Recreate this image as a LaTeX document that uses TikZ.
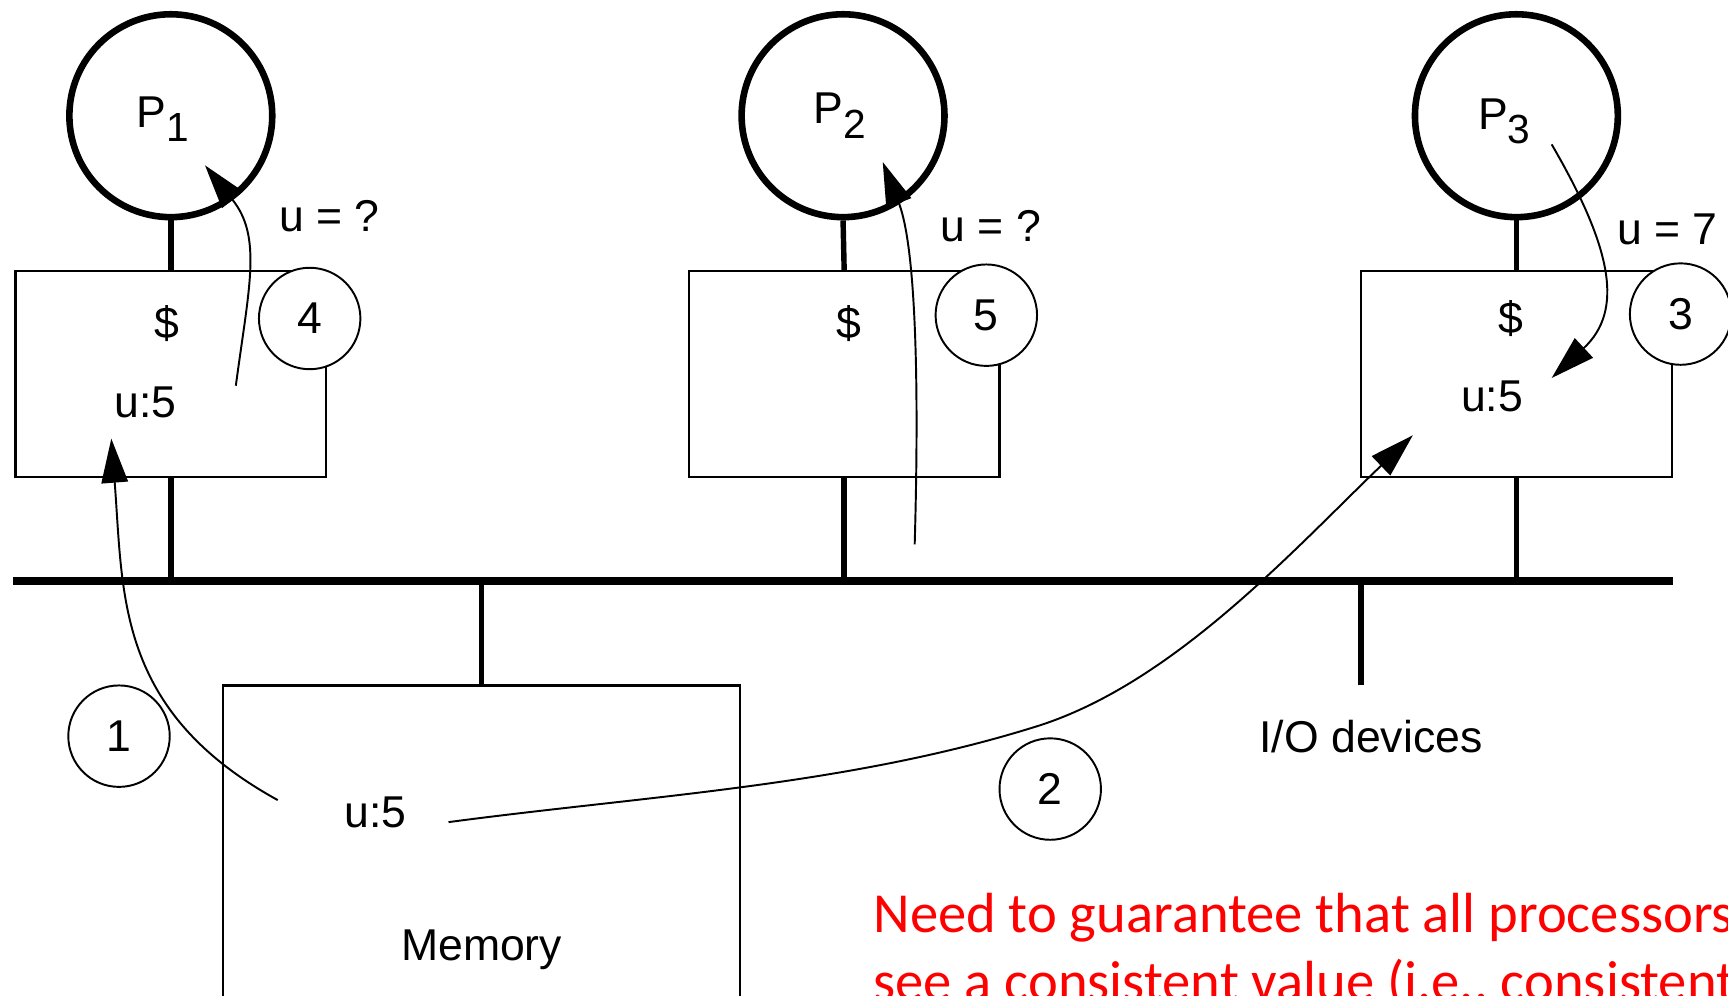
\documentclass[tikz,border=0pt]{standalone}
\usepackage{fontspec}
\setmainfont{Liberation Sans}
\newfontfamily\notefont{Carlito}
\usetikzlibrary{arrows.meta}
\definecolor{notered}{RGB}{255,0,0}
\newcommand\psub[1]{\raisebox{-0.6ex}{\fontsize{10.5}{11}\selectfont #1}}
\begin{document}
\begin{tikzpicture}[x=0.01cm, y=-0.01cm,
  proc/.style={circle, draw, line width=1.7pt, minimum size=1.84cm, inner sep=0pt},
  cachebox/.style={rectangle, draw, line width=0.6pt, minimum width=2.82cm, minimum height=1.87cm, inner sep=0pt},
  membox/.style={rectangle, draw, line width=0.6pt, minimum width=4.69cm, minimum height=3.6cm, inner sep=0pt},
  num/.style={circle, draw, fill=white, line width=0.5pt, minimum size=0.92cm, inner sep=0pt, font=\fontsize{11.5}{13}\selectfont},
  lbl/.style={inner sep=0pt, font=\fontsize{11.5}{13}\selectfont},
  note/.style={inner sep=0pt, anchor=base west, text=notered, font=\notefont\fontsize{14.6}{17.5}\selectfont},
  stem/.style={line width=1.4pt},
  busline/.style={line width=2.1pt},
  flow/.style={line width=0.5pt, -{Triangle[length=0.4cm, width=0.24cm]}},
]
\useasboundingbox (0,0) rectangle (1568,903);
\clip (0,0) rectangle (1568,903);

% processors
\node[proc] (p1) at (155,105) {};
\node[proc] (p2) at (765,105) {};
\node[proc] (p3) at (1376,105) {};
\node[lbl] (p1t) at (148,108) {P\psub{1}};
\node[lbl] (p2t) at (762,105) {P\psub{2}};
\node[lbl] (p3t) at (1365,110) {P\psub{3}};

% caches and memory
\node[cachebox] (c1) at (155,339.5) {};
\node[cachebox] (c2) at (766,339.5) {};
\node[cachebox] (c3) at (1376,339.5) {};
\node[membox] (mem) at (437,802) {};

% bus and its taps
\coordinate (busL) at (12,527);
\coordinate (busR) at (1518,527);
\coordinate (io) at (1235,622);
\draw[stem] (p1.south) -- (c1.north);
\draw[stem] (p2.south) -- (c2.north);
\draw[stem] (p3.south) -- (c3.north);
\draw[stem] (c1.south) -- (c1.south |- busL);
\draw[stem] (c2.south) -- (c2.south |- busL);
\draw[stem] (c3.south) -- (c3.south |- busL);
\draw[stem] (mem.north) -- (mem.north |- busL);
\draw[stem] (io) -- (io |- busL);
\draw[busline] (busL) -- (busR);

% step numbers
\node[num] (n4) at (281,289) {4};
\node[num] (n5) at (895,286) {5};
\node[num] (n3) at (1525,285) {3};
\node[num] (n1) at (108,668) {1};
\node[num] (n2) at (953,716) {2};

% contents
\node[lbl] (d1) at (151,294) {\$};
\node[lbl] (v1) at (132,365) {u:5};
\node[lbl] (q1) at (299,196) {u = ?};
\node[lbl] (d2) at (770,294) {\$};
\node[lbl] (q2) at (899,205) {u = ?};
\node[lbl] (d3) at (1371,289) {\$};
\node[lbl] (v3) at (1354,360) {u:5};
\node[lbl] (q3) at (1513,208) {u = 7};
\node[lbl] (vm) at (341,737) {u:5};
\node[lbl] (memt) at (437,862) {Memory};
\node[lbl] (iot) at (1244,668) {I/O devices};

% data movements
\coordinate (a1s) at (252,726);  \coordinate (a1e) at (101,398);
\coordinate (a2s) at (407,746);  \coordinate (a2m) at (941,659);  \coordinate (a2e) at (1282,395);
\coordinate (a3s) at (1408,131); \coordinate (a3e) at (1408,343);
\coordinate (a4s) at (214,350);  \coordinate (a4e) at (186,150);
\coordinate (a5s) at (830,494);  \coordinate (a5e) at (801,147);
\draw[flow] (a1s) .. controls (105,645) and (112,540) .. (a1e);
\draw[flow] (a2s) .. controls (587,722) and (769,713) .. (a2m)
                  .. controls (1065,620) and (1174,498.5) .. (a2e);
\draw[flow] (a3s) .. controls (1463,225.6) and (1473.7,281.8) .. (a3e);
\draw[flow] (a4s) .. controls (226,260) and (238,215) .. (a4e);
\draw[flow] (a5s) .. controls (833,390) and (834,231) .. (a5e);

% remark
\node[note] (m1) at (792,846) {Need to guarantee that all processors};
\node[note] (m2) at (792,907.7) {see a consistent value (i.e., consistent};
\end{tikzpicture}
\end{document}
